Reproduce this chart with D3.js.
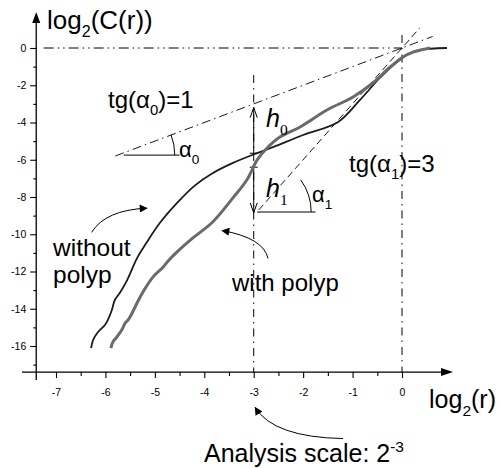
<!DOCTYPE html>
<html>
<head>
<meta charset="utf-8">
<script src="https://cdn.jsdelivr.net/npm/d3@7"></script>
<style>
  body { margin: 0; background: #fff; }
  svg { display: block; }
  text { font-family: "Liberation Sans", Arial, sans-serif; fill: #000; }
</style>
</head>
<body>
<div id="app"></div>
<script>
// log2(r) vs log2(C(r))
const withoutPolyp = [
  [-6.29, -16.11], [-6.25, -15.68], [-6.15, -15.25], [-6.01, -14.87], [-5.95, -14.6],
  [-5.87, -14.07], [-5.81, -13.53], [-5.71, -13.15], [-5.56, -12.46], [-5.36, -11.28],
  [-5.16, -10.42], [-4.9, -9.4], [-4.55, -8.32], [-4.2, -7.4], [-3.85, -6.75], [-3.42, -6.17],
  [-2.93, -5.64], [-2.61, -5.32], [-2.0, -4.67], [-1.29, -3.97], [-0.85, -2.79],
  [-0.45, -1.61], [-0.1, -0.75], [0.1, -0.38], [0.36, -0.11], [0.91, 0.0]
];
const withPolyp = [
  [-5.89, -16.11], [-5.85, -15.79], [-5.77, -15.52], [-5.67, -15.14], [-5.6, -14.77],
  [-5.54, -14.6], [-5.46, -14.23], [-5.36, -13.69], [-5.24, -13.1], [-5.04, -12.3],
  [-4.83, -11.76], [-4.75, -11.49], [-4.55, -10.95], [-4.23, -10.2], [-3.83, -9.34],
  [-3.42, -8.05], [-3.14, -7.09], [-2.93, -6.01], [-2.73, -5.37], [-2.47, -4.78],
  [-2.06, -4.24], [-1.52, -3.33], [-0.99, -2.63], [-0.59, -1.88], [-0.24, -1.02],
  [0.02, -0.48], [0.22, -0.22], [0.57, 0.0]
];
const xTicks = [-7, -6, -5, -4, -3, -2, -1, 0];
const xMinor = [-6.5, -5.5, -4.5, -3.5, -2.5, -1.5, -0.5];
const yTicks = [0, -2, -4, -6, -8, -10, -12, -14, -16];
const yMinor = [-1, -3, -5, -7, -9, -11, -13, -15, -17];

// tangent lines (slope 1 and slope 3)
const tangent0 = [[-5.8, -5.8], [0.62, 0.62]];
const tangent1 = [[-2.9, -8.7], [0.36, 1.08]];

const W = 501, H = 468;

const svg = d3.select('#app').append('svg')
  .attr('width', W).attr('height', H)
  .attr('viewBox', [0, 0, W, H]);

const x = d3.scaleLinear().domain([-7, 0]).range([56, 402]);
const y = d3.scaleLinear().domain([-16, 0]).range([346, 48]);

const x0 = x(-7.4), y0 = y(-17.4);

const defs = svg.append('defs');
defs.append('marker')
  .attr('id', 'head')
  .attr('viewBox', '0 0 10 10')
  .attr('refX', 9).attr('refY', 5)
  .attr('markerWidth', 11).attr('markerHeight', 8)
  .attr('markerUnits', 'userSpaceOnUse')
  .attr('orient', 'auto')
  .append('path').attr('d', 'M0,0 L10,5 L0,10 Z').attr('fill', '#000');

const line = d3.line().x(d => x(d[0])).y(d => y(d[1]));

// reference lines
const dashDot = '10,4,1.5,4,1.5,4';
svg.append('path').attr('d', line([[-7.25, 0], [0, 0]]))
  .attr('stroke', '#000').attr('stroke-width', 1).attr('stroke-dasharray', dashDot).attr('fill', 'none');
svg.append('path').attr('d', line([[-3, -1.45], [-3, -17.4]]))
  .attr('stroke', '#000').attr('stroke-width', 1).attr('stroke-dasharray', '8,5,1.5,5').attr('fill', 'none');
svg.append('path').attr('d', line([[0, 0.7], [0, -17.4]]))
  .attr('stroke', '#000').attr('stroke-width', 1).attr('stroke-dasharray', '8,5,1.5,5').attr('fill', 'none');

// tangents
svg.append('path').attr('d', line(tangent0))
  .attr('stroke', '#000').attr('stroke-width', 0.9).attr('stroke-dasharray', '9,4,1.5,4').attr('fill', 'none');
svg.append('path').attr('d', line(tangent1))
  .attr('stroke', '#000').attr('stroke-width', 0.9).attr('stroke-dasharray', '7,4').attr('fill', 'none');

// angle markers
svg.append('path').attr('d', line([[-5.63, -5.75], [-4.5, -5.75]]))
  .attr('stroke', '#000').attr('stroke-width', 1).attr('fill', 'none');
const a0 = d3.path();
const c0 = [x(-5.75), y(-5.75)], ang0 = Math.atan((y(0) - y(1)) / (x(1) - x(0)));
a0.arc(c0[0], c0[1], 57, 0, -ang0, true);
svg.append('path').attr('d', a0.toString()).attr('stroke', '#000').attr('fill', 'none');

svg.append('path').attr('d', line([[-2.93, -8.8], [-1.75, -8.8]]))
  .attr('stroke', '#555').attr('stroke-width', 1.5).attr('fill', 'none');
const a1 = d3.path();
const c1 = [x(-2.93), y(-8.8)], ang1 = Math.atan((y(0) - y(3)) / (x(1) - x(0)));
a1.arc(c1[0], c1[1], 54, 0, -ang1 * 0.75, true);
svg.append('path').attr('d', a1.toString()).attr('stroke', '#000').attr('fill', 'none');

// h0 / h1 arrows
function vArrow(x1, yFrom, yTo) {
  const g = svg.append('g').attr('stroke', '#000').attr('fill', 'none').attr('stroke-width', 1);
  g.append('path').attr('d', line([[x1, yFrom], [x1, yTo]]));
  g.append('path').attr('d', `M${x(x1) - 4},${y(yFrom)}H${x(x1) + 4}`);
  const dir = yTo > yFrom ? 1 : -1;
  const tx = x(x1), ty = y(yTo);
  g.append('path').attr('d', `M${tx - 3.5},${ty + dir * 10}L${tx},${ty}L${tx + 3.5},${ty + dir * 10}`);
}
vArrow(-3, -5.65, -3.2);
vArrow(-3, -6.4, -8.85);

// curves
svg.append('path')
  .attr('d', line.curve(d3.curveCatmullRom)(withoutPolyp))
  .attr('stroke', '#1c1c1c').attr('stroke-width', 1.8).attr('fill', 'none');
svg.append('path')
  .attr('d', line.curve(d3.curveCatmullRom)(withPolyp))
  .attr('stroke', '#6a6a6a').attr('stroke-width', 3).attr('fill', 'none');

// axes
svg.append('line').attr('x1', x0).attr('x2', x0).attr('y1', 20).attr('y2', 380)
  .attr('stroke', '#000').attr('stroke-width', 1.3);
svg.append('path').attr('d', `M${x0},12L${x0 - 4},23L${x0 + 4},23Z`).attr('fill', '#000');
svg.append('line').attr('x1', 22).attr('x2', 444).attr('y1', y0).attr('y2', y0)
  .attr('stroke', '#000').attr('stroke-width', 1.3);
svg.append('path').attr('d', `M453,${y0}L441,${y0 - 4}L441,${y0 + 4}Z`).attr('fill', '#000');

const gx = svg.append('g').attr('transform', `translate(0,${y0})`)
  .call(d3.axisBottom(x).tickValues(xTicks).tickSize(6).tickPadding(10).tickFormat(d => String(d)));
const gxm = svg.append('g').attr('transform', `translate(0,${y0})`)
  .call(d3.axisBottom(x).tickValues(xMinor).tickSize(4).tickFormat(''));
const gy = svg.append('g').attr('transform', `translate(${x0},0)`)
  .call(d3.axisLeft(y).tickValues(yTicks).tickSize(6).tickPadding(4).tickFormat(d => String(d)));
const gym = svg.append('g').attr('transform', `translate(${x0},0)`)
  .call(d3.axisLeft(y).tickValues(yMinor).tickSize(3).tickFormat(''));
[gx, gxm, gy, gym].forEach(g => {
  g.select('.domain').remove();
  g.selectAll('line').attr('stroke', '#000').attr('stroke-width', 1.1);
  g.selectAll('text').attr('font-family', '"Liberation Sans", Arial, sans-serif')
    .attr('font-size', 10.5).attr('fill', '#000');
});

// text labels
function label(px, py, parts, size, family, style) {
  const t = svg.append('text').attr('x', px).attr('y', py).attr('font-size', size);
  if (family) t.attr('font-family', family);
  if (style) t.attr('font-style', style);
  parts.forEach(p => {
    const s = t.append('tspan').text(p.t);
    if (p.sub) s.attr('font-size', size * 0.62).attr('dy', size * 0.3);
    if (p.sup) s.attr('font-size', size * 0.62).attr('dy', -size * 0.42);
    if (p.back) s.attr('dy', p.back);
    if (p.fs) s.attr('font-family', p.fs).attr('font-style', 'normal');
  });
  return t;
}

label(47, 29, [{ t: 'log' }, { t: '2', sub: true }, { t: '(C(r))', back: -7.8 }], 26);
label(429, 408, [{ t: 'log' }, { t: '2', sub: true }, { t: '(r)', back: -7.5 }], 25);
label(204, 462, [{ t: 'Analysis scale: 2' }, { t: '-3', sup: true }], 25);
label(108, 108, [{ t: 'tg(α' }, { t: '0', sub: true }, { t: ')=1', back: -7.2 }], 24);
label(349, 172, [{ t: 'tg(α' }, { t: '1', sub: true }, { t: ')=3', back: -7.2 }], 24);
label(53, 256, [{ t: 'without' }], 24.5);
label(53, 283, [{ t: 'polyp' }], 24.5);
label(232, 291, [{ t: 'with polyp' }], 24);
label(179, 157, [{ t: 'α' }, { t: '0', sub: true }], 22);
label(312, 202, [{ t: 'α' }, { t: '1', sub: true }], 22);
label(266, 127, [{ t: 'h' }, { t: '0', sub: true, fs: '"Liberation Serif", serif' }], 25, '"Liberation Serif", serif', 'italic');
label(266, 197, [{ t: 'h' }, { t: '1', sub: true, fs: '"Liberation Serif", serif' }], 25, '"Liberation Serif", serif', 'italic');

// pointer arrows
function pointer(from, ctrl, to) {
  const p = d3.path();
  p.moveTo(x(from[0]), y(from[1]));
  p.quadraticCurveTo(x(ctrl[0]), y(ctrl[1]), x(to[0]), y(to[1]));
  svg.append('path').attr('d', p.toString()).attr('stroke', '#000').attr('stroke-width', 1)
    .attr('fill', 'none').attr('marker-end', 'url(#head)');
}
pointer([-6.28, -9.9], [-6.0, -8.7], [-5.16, -8.6]);
pointer([-2.71, -11.3], [-2.8, -10.2], [-3.64, -9.8]);
pointer([-1.19, -20.97], [-2.6, -20.9], [-2.97, -19.3]);
</script>
</body>
</html>
